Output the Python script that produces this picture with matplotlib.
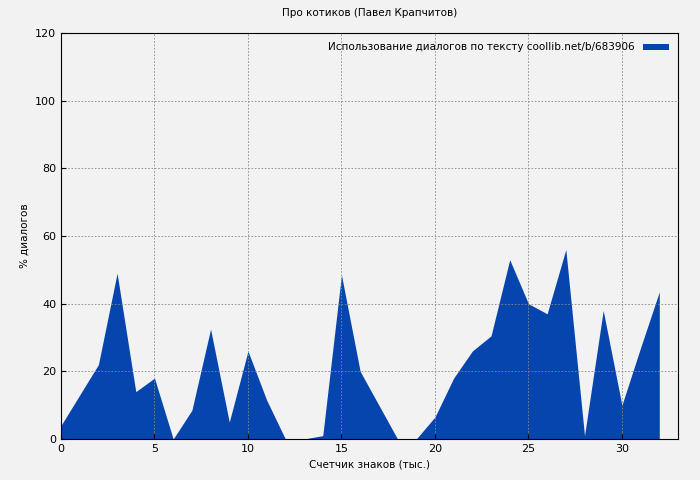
import matplotlib
matplotlib.use("Agg")
import matplotlib.pyplot as plt

x = list(range(33))
values = [4, 13, 22, 49, 14, 18, 0, 8.5, 32.5, 5, 26, 11.5, 0, 0, 1, 48.5, 20, 10, 0, 0,
          6.5, 18, 26, 30.5, 53, 40, 37, 56, 1, 38, 10, 27, 43.5]
title = "Про котиков (Павел Крапчитов)"
label = "Использование диалогов по тексту coollib.net/b/683906"

fig = plt.figure(figsize=(7, 4.8), dpi=100, facecolor="#f2f2f2")
ax = fig.add_axes([61/700, 41/480, 617/700, 406/480])
ax.set_facecolor("#f2f2f2")
ax.fill_between(x, values, 0, color="#0645ad", lw=0, label=label)
ax.set_xlim(0, 33)
ax.set_ylim(0, 120)
ax.set_xticks(range(0, 31, 5))
ax.set_yticks(range(0, 121, 20))
ax.grid(True, color="#888888", ls=(0, (2, 2)), lw=0.6)
ax.tick_params(labelsize=8, direction="in")
ax.set_title(title, fontsize=7.5, pad=12)
ax.set_xlabel("Счетчик знаков (тыс.)", fontsize=7.5)
ax.set_ylabel("% диалогов", fontsize=7.5)
ax.legend(loc="upper right", fontsize=7.5, frameon=False, markerfirst=False,
          handlelength=2.5, handleheight=0.5)
fig.savefig("out.png", dpi=100, facecolor="#f2f2f2")
